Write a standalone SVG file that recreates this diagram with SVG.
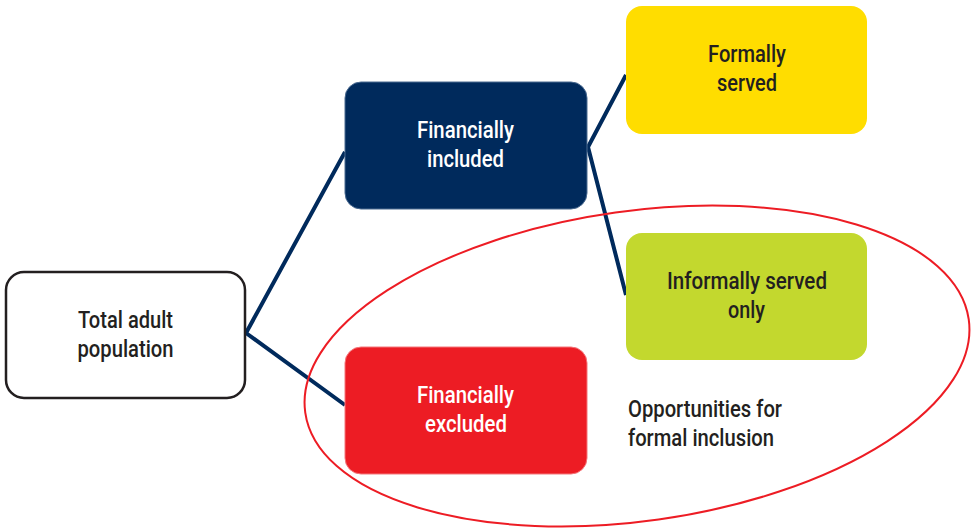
<svg xmlns="http://www.w3.org/2000/svg" width="975" height="528" viewBox="0 0 975 528">
<style>
  .t { font-family: Roboto, "Liberation Sans", Arial, sans-serif; font-weight: 500; font-size: 23px; text-anchor: middle; }
  .dark { fill: #231f20; }
  .light { fill: #ffffff; }
  .conn { stroke: #002a5c; stroke-width: 4; fill: none; stroke-linecap: butt; }
</style>
<rect width="975" height="528" fill="#ffffff"/>
<g id="connectors">
  <polyline class="conn" points="345,152 246,333 345,405"/>
  <polyline class="conn" points="626,75 588,147 626,295"/>
</g>
<g id="ellipse">
  <ellipse cx="637" cy="366" rx="335" ry="155" transform="rotate(-8 637 366)" fill="none" stroke="#ed1c24" stroke-width="2"/>
</g>
<g id="total">
  <rect x="6" y="272" width="239" height="126" rx="18" fill="#ffffff" stroke="#231f20" stroke-width="2.5"/>
  <text class="t dark" x="125.5" y="328" textLength="95" lengthAdjust="spacingAndGlyphs">Total adult</text>
  <text class="t dark" x="125.5" y="357" textLength="96" lengthAdjust="spacingAndGlyphs">population</text>
</g>
<g id="included">
  <rect x="345" y="82" width="242" height="127" rx="16" fill="#002a5c" stroke="#4a6a90" stroke-width="1"/>
  <text class="t light" x="465.5" y="138" textLength="97" lengthAdjust="spacingAndGlyphs">Financially</text>
  <text class="t light" x="465.5" y="167" textLength="77" lengthAdjust="spacingAndGlyphs">included</text>
</g>
<g id="formal">
  <rect x="626" y="6" width="241" height="128" rx="16" fill="#ffdd00"/>
  <text class="t dark" x="747" y="62" textLength="78" lengthAdjust="spacingAndGlyphs">Formally</text>
  <text class="t dark" x="747" y="91" textLength="60" lengthAdjust="spacingAndGlyphs">served</text>
</g>
<g id="informal">
  <rect x="626" y="233" width="241" height="127" rx="16" fill="#c3d82e"/>
  <text class="t dark" x="747" y="289" textLength="160" lengthAdjust="spacingAndGlyphs">Informally served</text>
  <text class="t dark" x="746.5" y="318" textLength="37" lengthAdjust="spacingAndGlyphs">only</text>
</g>
<g id="excluded">
  <rect x="345" y="347" width="242" height="127" rx="16" fill="#ed1c24" stroke="#f4767b" stroke-width="1"/>
  <text class="t light" x="465.5" y="403" textLength="97" lengthAdjust="spacingAndGlyphs">Financially</text>
  <text class="t light" x="466" y="432" textLength="82" lengthAdjust="spacingAndGlyphs">excluded</text>
</g>
<g id="label">
  <text class="t dark" x="628" y="417" style="text-anchor:start" textLength="154" lengthAdjust="spacingAndGlyphs">Opportunities for</text>
  <text class="t dark" x="628" y="446" style="text-anchor:start" textLength="146" lengthAdjust="spacingAndGlyphs">formal inclusion</text>
</g>
</svg>
